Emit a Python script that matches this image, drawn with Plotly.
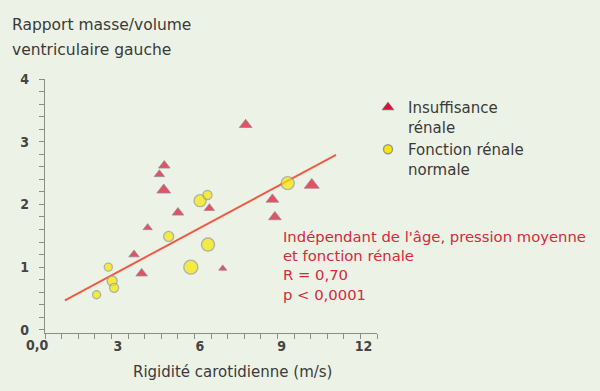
import plotly.graph_objects as go

# --- data ---
ir_x = [4.70, 4.52, 4.68, 5.20, 4.09, 6.35, 3.59, 3.87, 6.84, 7.68, 8.66, 8.75, 10.10]
ir_y = [2.62, 2.48, 2.23, 1.87, 1.63, 1.94, 1.20, 0.90, 0.98, 3.27, 2.08, 1.80, 2.31]
ir_size = [10, 9, 12, 10, 8, 9, 9, 10, 7, 11, 11, 11, 13]

nr_x = [6.01, 6.28, 4.86, 6.30, 5.67, 2.65, 2.79, 2.86, 2.22, 9.22]
nr_y = [2.06, 2.15, 1.49, 1.36, 1.00, 1.00, 0.78, 0.67, 0.56, 2.34]
nr_size = [12, 9, 10, 13, 14, 8, 10, 9, 8, 13]

fit_x = [1.06, 10.99]
fit_y = [0.47, 2.79]

x_tickvals = [3, 6, 9, 12]
x_ticktext = ["3", "6", "9", "12"]
y_tickvals = [0, 1, 2, 3, 4]
y_ticktext = ["0", "1", "2", "3", "4"]

BG = "#edf2e6"
RED = "#de0f2c"
YELLOW = "#f6e800"
TXT = "#3a3a3a"
AX = "#8a8f86"
FONT = "DejaVu Sans"
TICKFONT = dict(family="DejaVu Sans Condensed", size=14, color="#444444", weight="bold")

fig = go.Figure()
fig.add_trace(go.Scatter(x=fit_x, y=fit_y, mode="lines",
                         line=dict(color="#f05a44", width=2), showlegend=False, hoverinfo="skip"))
fig.add_trace(go.Scatter(x=nr_x, y=nr_y, mode="markers", showlegend=False,
                         marker=dict(symbol="circle", size=nr_size, color=YELLOW,
                                     line=dict(color="#9a9a88", width=1.4))))
fig.add_trace(go.Scatter(x=ir_x, y=ir_y, mode="markers", showlegend=False,
                         marker=dict(symbol="triangle-up", size=ir_size, color=RED,
                                     line=dict(color="#7a5a78", width=0.8))))
# legend entries
fig.add_trace(go.Scatter(x=[None], y=[None], mode="markers", name="Insuffisance<br>rénale",
                         marker=dict(symbol="triangle-up", size=10, color=RED,
                                     line=dict(color="#7a5a78", width=0.8))))
fig.add_trace(go.Scatter(x=[None], y=[None], mode="markers", name="Fonction rénale<br>normale",
                         marker=dict(symbol="circle", size=9, color=YELLOW,
                                     line=dict(color="#9a9a88", width=1.4))))

W, H = 600, 391
L, R, T, B = 45, 377, 79, 333


def px(p):
    return (p - L) / (R - L)


def py(p):
    return (B - p) / (B - T)


fig.update_layout(
    width=W, height=H,
    margin=dict(l=L, r=W - R, t=T, b=H - B),
    paper_bgcolor=BG, plot_bgcolor=BG,
    font=dict(family=FONT, size=14, color=TXT),
    showlegend=True,
    legend=dict(x=px(368), y=py(91), xanchor="left", yanchor="top",
                bgcolor="rgba(0,0,0,0)", font=dict(size=15, color=TXT),
                valign="top", tracegroupgap=0, itemwidth=30),
    xaxis=dict(range=[0.33, 12.49], showgrid=False, zeroline=False,
               showline=True, linecolor=AX, linewidth=1.2,
               tickvals=x_tickvals, ticktext=x_ticktext, ticks="", ticklen=0,
               tickfont=TICKFONT,
               minor=dict(ticks="outside", ticklen=5, tickcolor=AX, tick0=0.33, dtick=0.608)),
    yaxis=dict(range=[-0.05, 4.0], showgrid=False, zeroline=False,
               showline=True, linecolor=AX, linewidth=1.2,
               tickvals=y_tickvals, ticktext=y_ticktext, ticks="outside", ticklen=5,
               tickcolor=AX, tickfont=TICKFONT, ticklabelstandoff=7,
               minor=dict(ticks="outside", ticklen=5, tickcolor=AX, tick0=0, dtick=0.2)),
)

ann = []
ann.append(dict(text="Rapport masse/volume", xref="paper", yref="paper",
                x=px(10), y=py(25), xanchor="left", yanchor="middle", align="left",
                showarrow=False, font=dict(size=15.5, color=TXT)))
ann.append(dict(text="ventriculaire gauche", xref="paper", yref="paper",
                x=px(10), y=py(50), xanchor="left", yanchor="middle", align="left",
                showarrow=False, font=dict(size=15.5, color=TXT)))
ann.append(dict(text="Rigidité carotidienne (m/s)", xref="paper", yref="paper",
                x=px(232), y=py(372), xanchor="center", yanchor="middle",
                showarrow=False, font=dict(size=15, color=TXT)))
ann.append(dict(text="0,0", xref="paper", yref="paper", x=px(37), y=py(345),
                xanchor="center", yanchor="middle", showarrow=False,
                font=TICKFONT))
ann.append(dict(text="Indépendant de l'âge, pression moyenne<br>et fonction rénale<br>R = 0,70<br>p &lt; 0,0001",
                xref="paper", yref="paper", x=px(281), y=py(226), xanchor="left", yanchor="top",
                align="left", showarrow=False, font=dict(size=14.8, color="#d42a3c")))
fig.update_layout(annotations=ann)

fig.write_html("out.html", config={"displayModeBar": False},
               post_script="document.body.style.margin='0';document.body.style.background='%s';" % BG)
